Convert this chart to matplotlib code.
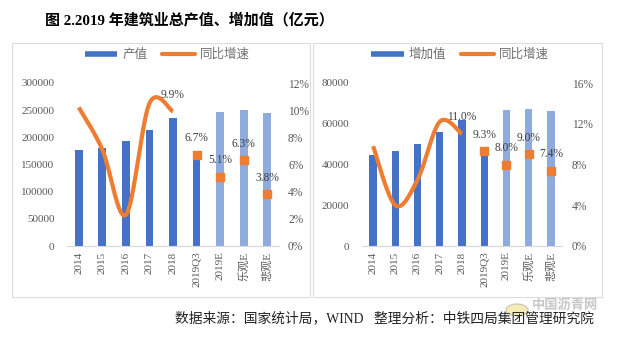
import numpy as np
import matplotlib
matplotlib.use("Agg")
import matplotlib.pyplot as plt
from matplotlib.lines import Line2D
from matplotlib.patches import Rectangle, Circle

FAM = ['Liberation Serif', 'Noto Sans CJK SC', 'DejaVu Sans']
plt.rcParams['font.family'] = FAM

categories = ['2014', '2015', '2016', '2017', '2018', '2019Q3', '2019E', '乐观E', '悲观E']
output_value = [176713, 180757, 193567, 213944, 235086, 165000, 247075, 249896, 244019]
output_growth_hist = [10.2, 7.1, 2.3, 10.5, 9.9]
output_growth_est = [6.7, 5.1, 6.3, 3.8]
added_value = [44880, 46627, 49900, 55800, 61808, 45500, 66753, 67371, 66382]
added_growth_hist = [9.8, 4.0, 6.5, 12.2, 11.0]
added_growth_est = [9.3, 8.0, 9.0, 7.4]

DARK = '#4472C4'
LIGHT = '#8FAADC'
ORANGE = '#ED7D31'
GRAY = '#595959'


def smooth(xs, ys, n=40):
    P = np.column_stack([xs, ys]).astype(float)
    out = []
    for i in range(len(P) - 1):
        p0 = P[i - 1] if i > 0 else P[i]
        p1, p2 = P[i], P[i + 1]
        p3 = P[i + 2] if i + 2 < len(P) else P[i + 1]
        c1 = p1 + (p2 - p0) / 6
        c2 = p2 - (p3 - p1) / 6
        t = np.linspace(0, 1, n)[:, None]
        seg = (1 - t) ** 3 * p1 + 3 * (1 - t) ** 2 * t * c1 + 3 * (1 - t) * t ** 2 * c2 + t ** 3 * p2
        out.append(seg if i == 0 else seg[1:])
    return np.vstack(out)


fig = plt.figure(figsize=(6.18, 3.39), dpi=100)
W, H = 618, 339

# panel borders
for (x0, x1) in [(12, 310), (313, 602)]:
    fig.patches.append(Rectangle((x0 / W, 1 - 297 / H), (x1 - x0) / W, 254 / H,
                                 transform=fig.transFigure, fill=False,
                                 edgecolor='#DDDDDD', linewidth=0.8))


def panel(left_px, right_px, values, ymax, ystep, g_hist, g_est, gmax, gstep,
          legend_name, legend_x, lpad, rpad):
    ax = fig.add_axes([left_px / W, 1 - 246 / H, (right_px - left_px) / W, 163 / H])
    x = np.arange(len(categories))
    colors = [DARK] * 6 + [LIGHT] * 3
    ax.bar(x, values, width=0.33, color=colors, zorder=2)
    ax.set_xlim(-0.5, len(categories) - 0.5)
    ax.set_ylim(0, ymax)
    ax.set_yticks(np.arange(0, ymax + 1, ystep))
    ax.set_yticklabels([str(int(v)) for v in np.arange(0, ymax + 1, ystep)])
    ax.set_xticks(x)
    ax.set_xticklabels(categories, rotation=90, family=FAM)
    for s in ['top', 'left', 'right']:
        ax.spines[s].set_visible(False)
    ax.spines['bottom'].set_color('#D9D9D9')
    ax.tick_params(axis='y', length=0, pad=lpad, labelsize=8, labelcolor=GRAY)
    ax.tick_params(axis='x', length=0, pad=4, labelsize=8, labelcolor=GRAY)

    ax2 = ax.twinx()
    ax2.set_ylim(0, gmax)
    ticks = np.arange(0, gmax + 0.01, gstep)
    ax2.set_yticks(ticks)
    ax2.set_yticklabels([f'{int(t)}%' for t in ticks])
    for s in ['top', 'left', 'right', 'bottom']:
        ax2.spines[s].set_visible(False)
    ax2.tick_params(axis='y', length=0, pad=rpad, labelsize=8.3, labelcolor=GRAY)

    xs = np.arange(len(g_hist))
    curve = smooth(xs, g_hist)
    ax2.plot(curve[:, 0], curve[:, 1], color=ORANGE, lw=3, solid_capstyle='butt', zorder=3)
    xe = np.arange(len(g_hist), len(categories))
    ax2.plot(xe, g_est, ls='none', marker='s', ms=6, color=ORANGE, zorder=4)

    lbl_x = [xs[-1]] + list(xe)
    lbl_y = [g_hist[-1]] + list(g_est)
    for xx, yy in zip(lbl_x, lbl_y):
        ax2.annotate(f'{yy:.1f}%', (xx, yy), xytext=(0, 12), textcoords='offset points',
                     ha='center', va='center', fontsize=8.3, color='#404040', zorder=5)

    handles = [Line2D([], [], color=DARK, lw=4, solid_capstyle='butt'),
               Line2D([], [], color=ORANGE, lw=3, solid_capstyle='round')]
    ax.legend(handles, [legend_name, '同比增速'], loc='center',
              bbox_to_anchor=(legend_x, 1.172), ncol=2, frameon=False,
              fontsize=9, handlelength=2.6, handletextpad=0.4,
              columnspacing=1.2, labelcolor='#707070')
    return ax, ax2


panel(67, 279, output_value, 300000, 50000, output_growth_hist, output_growth_est,
      12, 2, '产值', 0.472, 9, 6.5)
panel(362, 562, added_value, 80000, 20000, added_growth_hist, added_growth_est,
      16, 4, '增加值', 0.49, 9, 7)

fig.text(45 / W, 1 - 20 / H, '图 2.2019 年建筑业总产值、增加值（亿元）', fontsize=10.8,
         fontweight='bold', ha='left', va='center', family=FAM, color='black')
fig.text(175 / W, 1 - 318 / H, '数据来源：国家统计局，WIND   整理分析：中铁四局集团管理研究院',
         fontsize=9.9, ha='left', va='center', family=FAM, color='#222222')
# watermark
fig.patches.append(Circle((517 / W, 1 - 310 / H), 11 / W, transform=fig.transFigure,
                          facecolor='#E8D35A', edgecolor='#A0A0A0', alpha=0.45, lw=1))
fig.text(532 / W, 1 - 305 / H, '中国沥青网', fontsize=9.5, fontweight='bold',
         ha='left', va='center', family=FAM, color='#9A9A9A', alpha=0.55)

fig.savefig('out.png', dpi=100)
